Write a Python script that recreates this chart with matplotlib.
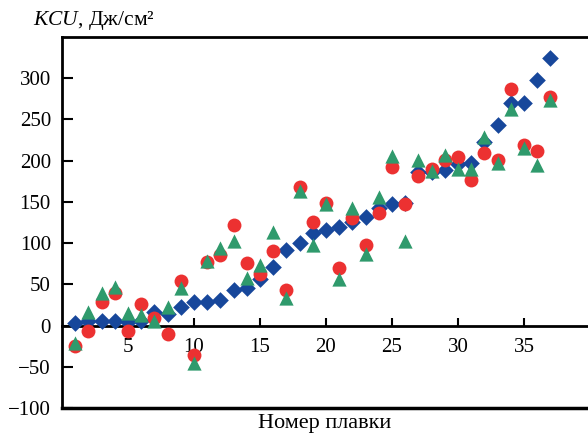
import numpy as np
import matplotlib
matplotlib.use("Agg")
import matplotlib.pyplot as plt

plt.rcParams['font.family'] = ['Liberation Serif', 'DejaVu Serif']
plt.rcParams['mathtext.fontset'] = 'custom'
plt.rcParams['mathtext.it'] = 'Liberation Serif:italic'
plt.rcParams['mathtext.rm'] = 'Liberation Serif'

# heat number
melt = np.arange(1, 38)
# KCU values, J/cm2 (three series)
kcu_diamond = [3, 5, 6, 6, 4, 5, 16, 14, 22, 28, 28, 31, 43, 45, 56, 71, 92, 100, 112,
               116, 119, 125, 132, 143, 147, 149, 186, 186, 189, 196, 197, 223, 243,
               270, 270, 298, 324]
kcu_circle = [-25, -6, 28, 40, -7, 26, 9, -10, 54, -36, 77, 85, 122, 76, 63, 91, 43,
              168, 126, 149, 70, 130, 98, 137, 192, 148, 181, 190, 201, 205, 176, 209,
              201, 287, 219, 212, 277]
kcu_triangle = [-21, 17, 39, 47, 15, 13, 5, 23, 45, -45, 78, 94, 103, 58, 74, 114, 34,
                163, 98, 147, 56, 142, 87, 156, 206, 102, 201, 188, 207, 190, 190, 229,
                197, 263, 215, 195, 274]

fig = plt.figure(figsize=(5.88, 4.40), dpi=100)
ax = fig.add_axes([62/588, 1 - 408/440, 1 - 62/588, (408 - 37)/440])

ax.scatter(melt, kcu_diamond, marker='D', s=72, color='#17479b', linewidths=0, zorder=3)
ax.scatter(melt, kcu_circle, marker='o', s=100, color='#ec3131', linewidths=0, zorder=4)
ax.scatter(melt, kcu_triangle, marker='^', s=105, color='#2f9a6c', linewidths=0, zorder=5)

ax.set_xlim(0, 39.85)
ax.set_ylim(-100, 350)

# x axis drawn along zero, frame kept at -100
ax.spines['bottom'].set_position(('data', 0))
ax.spines['right'].set_visible(False)
for s in ['left', 'top', 'bottom']:
    ax.spines[s].set_linewidth(2)
ax.axhline(-100, color='black', lw=2.5, clip_on=False)

ax.set_xticks(np.arange(5, 40, 5))
ax.set_yticks(np.arange(-100, 301, 50))
ax.set_yticklabels([str(v).replace('-', '\u2212') for v in range(-100, 301, 50)])
ax.tick_params(axis='x', direction='in', length=6, width=1.5, pad=9, labelsize=15)
ax.tick_params(axis='y', direction='in', length=8, width=1.5, pad=8, labelsize=15)

fig.text(33/588, 1 - 20/440, r'$KCU$, Дж/см²', fontsize=15.5, va='center', ha='left')
ax.text(0.5, -0.015, 'Номер плавки', transform=ax.transAxes, fontsize=16,
        ha='center', va='top')

fig.savefig('out.png', dpi=100)
